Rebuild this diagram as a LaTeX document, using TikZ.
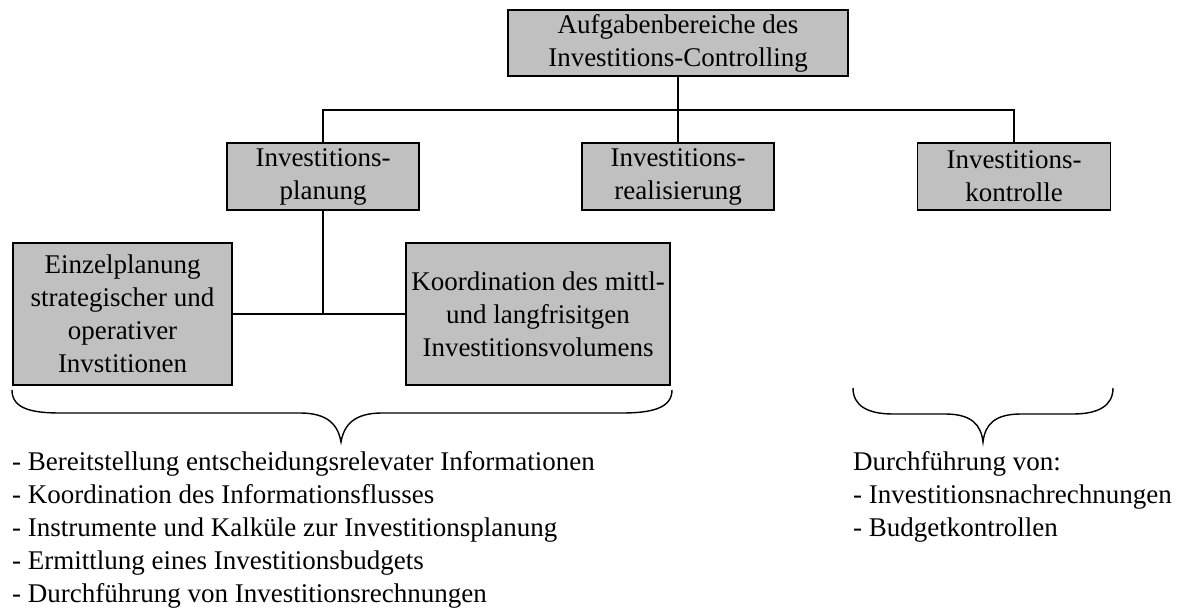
\documentclass[tikz,border=0pt]{standalone}
\usepackage{fontspec}
\setmainfont{Liberation Serif}
\definecolor{boxgray}{RGB}{192,192,192}
\begin{document}
\begin{tikzpicture}[x=1pt,y=-1pt,
  box/.style={draw=black, line width=1.4pt, fill=boxgray, inner sep=0pt, align=center, font=\fontsize{27}{33}\selectfont},
  conn/.style={line width=1.4pt},
  bracepath/.style={line width=1.4pt},
  lst/.style={anchor=base west, inner sep=0pt, font=\fontsize{27}{33}\selectfont}]
\useasboundingbox (0,0) rectangle (1180,609);
\node[box, minimum width=340pt, minimum height=66pt] (top) at (678,43) {Aufgabenbereiche des\\Investitions-Controlling};
\node[box, minimum width=192pt, minimum height=67pt] (plan) at (323,176.5) {Investitions-\\planung};
\node[box, minimum width=192pt, minimum height=67pt] (real) at (678,176.5) {Investitions-\\realisierung};
\node[box, minimum width=193pt, minimum height=67pt] (kontr) at (1014,176.5) {Investitions-\\kontrolle};
\node[box, minimum width=219pt, minimum height=142pt] (einzel) at (122.5,314) {Einzelplanung\\strategischer und\\operativer\\Invstitionen};
\node[box, minimum width=264pt, minimum height=142pt] (koord) at (538,314) {Koordination des mittl-\\und langfrisitgen\\Investitionsvolumens};

\draw[conn] (top.south) -- (real.north);
\draw[conn] (plan.north) -- (plan.north |- 0,110) -| (kontr.north);
\draw[conn] (plan.south) -- (plan.south |- einzel.east);
\draw[conn] (einzel.east) -- (koord.west);

\draw[bracepath] (12,390) .. controls (12,408) and (30,413) .. (60,413) -- (300,413) .. controls (328,413) and (338,425) .. (341,442) .. controls (344,425) and (354,413) .. (382,413) -- (622,413) .. controls (652,413) and (672,408) .. (672,390);
\draw[bracepath] (853,388) .. controls (853,406) and (868,414) .. (893,414) -- (945,414) .. controls (972,414) and (981,425) .. (983,442) .. controls (985,425) and (994,414) .. (1021,414) -- (1073,414) .. controls (1098,414) and (1113,406) .. (1113,388);

\node[lst] (l1) at (12,470) {- Bereitstellung entscheidungsrelevater Informationen};
\node[lst] (l2) at (12,503) {- Koordination des Informationsflusses};
\node[lst] (l3) at (12,536) {- Instrumente und Kalkül\-e zur Investitionsplanung};
\node[lst] (l4) at (12,569) {- Ermittlung eines Investitionsbudgets};
\node[lst] (l5) at (12,602) {- Durchführung von Investitionsrechnungen};

\node[lst] (r1) at (853,470) {Durchführung von:};
\node[lst] (r2) at (853,503) {- Investitionsnachrechnungen};
\node[lst] (r3) at (853,536) {- Budgetkontrollen};
\end{tikzpicture}
\end{document}
